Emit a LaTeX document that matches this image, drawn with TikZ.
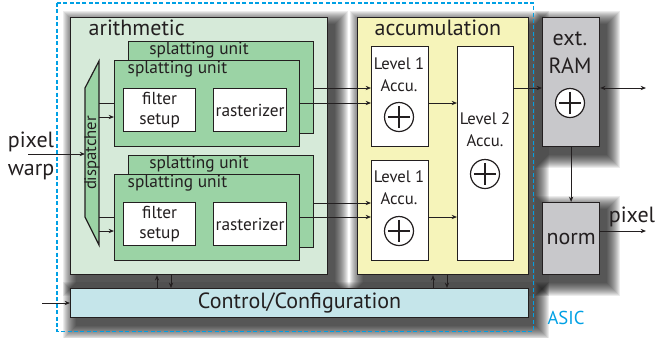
\documentclass[tikz,border=0pt]{standalone}
\usepackage{fontspec}
\setmainfont{PT Sans}
\usepackage{tikz}
\usetikzlibrary{arrows.meta, calc}

\definecolor{ink}{RGB}{35,31,32}
\definecolor{arithbg}{RGB}{214,234,217}
\definecolor{splatbg}{RGB}{155,211,165}
\definecolor{accbg}{RGB}{246,244,186}
\definecolor{rambg}{RGB}{200,200,203}
\definecolor{ctrlbg}{RGB}{197,229,234}
\definecolor{asiccol}{RGB}{0,160,228}

\pgfdeclarelayer{shade}
\pgfsetlayers{shade,main}

% soft drop shadow behind a named box, built from stacked translucent rectangles
\newcommand\dropshade[1]{%
  \begin{pgfonlayer}{shade}
  \foreach \r in {0,...,13}{%
    \fill[black, opacity=0.075] ($(#1.north west)+(\r-7,\r-6)$) rectangle ($(#1.south east)+(20-\r,21-\r)$);}
  \end{pgfonlayer}}

\tikzset{
  blk/.style={draw=ink, line width=0.9pt, inner sep=0pt, anchor=north west, text=ink},
  wire/.style={draw=ink, line width=0.75pt, -{Stealth[length=4pt,width=3.2pt]}},
  biwire/.style={draw=ink, line width=0.75pt, {Stealth[length=4pt,width=3.2pt]}-{Stealth[length=4pt,width=3.2pt]}},
  plain/.style={draw=ink, line width=0.75pt},
  adder/.style={circle, draw=ink, line width=0.9pt, fill=white, minimum size=21.75pt, inner sep=0pt,
    path picture={\draw[ink, line width=0.8pt, shorten >=2.5pt, shorten <=2.5pt]
      (path picture bounding box.north) -- (path picture bounding box.south);
      \draw[ink, line width=0.8pt, shorten >=2.5pt, shorten <=2.5pt]
      (path picture bounding box.west) -- (path picture bounding box.east);}},
  big/.style={font=\fontsize{16.5}{21}\selectfont, text=ink},
  mid/.style={font=\fontsize{13}{15}\selectfont, text=ink},
  sml/.style={font=\fontsize{12.5}{16.5}\selectfont, text=ink},
  asicline/.style={draw=asiccol, line width=1pt, dash pattern={on 3pt off 1.8pt}},
}

\begin{document}
\begin{tikzpicture}[x=0.75pt,y=0.75pt,yscale=-1,xscale=1]
\useasboundingbox (0,0) rectangle (657,337);

%Shape: Rectangle -- arithmetic, accumulation, control, ext. RAM, norm
\node[blk, fill=arithbg, minimum width=192.75pt, minimum height=192.75pt] (arith) at (70,17) {};
\node[blk, fill=accbg, minimum width=128.25pt, minimum height=192.75pt] (accu) at (357,17) {};
\node[blk, fill=ctrlbg, minimum width=343.5pt, minimum height=21.75pt, big] (ctrl) at (70,288) {Control/Configuration};
\node[blk, fill=rambg, minimum width=42.75pt, minimum height=96.75pt] (ram) at (542,17) {};
\node[blk, fill=rambg, minimum width=42.75pt, minimum height=54pt, big] (norm) at (542,202) {norm};
\dropshade{arith}
\dropshade{accu}
\dropshade{ctrl}
\dropshade{ram}
\dropshade{norm}

% Text Node
\node[big, anchor=base west] (arithlbl) at (84,35) {arithmetic};
\node[big, anchor=base west] (acculbl) at (370,35) {accumulation};

%Shape: Rectangle -- splatting units, upper row
\node[blk, fill=splatbg, minimum width=138.75pt, minimum height=69pt] (backA) at (128,41) {};
\node[mid, anchor=base] (backAlbl) at (199,54) {splatting unit};
%Shape: Rectangle -- splatting units, lower row
\node[blk, fill=splatbg, minimum width=138.75pt, minimum height=69pt] (backB) at (128,155) {};
\node[mid, anchor=base] (backBlbl) at (199,168) {splatting unit};

%Shape: Polygon -- dispatcher
\draw[ink, line width=0.9pt, fill=splatbg] (99,61) -- (99,245) -- (85,217) -- (85,88) -- cycle;
\node[sml, rotate=90] (disp) at (92,153) {dispatcher};
\coordinate (dspIn) at (85,154);
\coordinate (dspOut) at (99,153);

%Straight Lines -- dispatcher to the hidden units
\draw[plain] (dspOut |- 0,103) -- (backA.west |- 0,103);
\draw[plain] (dspOut |- 0,217) -- (backB.west |- 0,217);

\node[blk, fill=splatbg, minimum width=138.75pt, minimum height=64.5pt] (frontA) at (114,60) {};
\node[mid, anchor=base west] (frontAlbl) at (123,73) {splatting unit};
\node[blk, fill=white, minimum width=54pt, minimum height=32.25pt, mid, align=center] (filtA) at (123,88) {filter\\setup};
\node[blk, fill=white, minimum width=54.75pt, minimum height=32.25pt, mid] (rastA) at (213,88) {rasterizer};

\node[blk, fill=splatbg, minimum width=138.75pt, minimum height=64.5pt] (frontB) at (114,174) {};
\node[mid, anchor=base west] (frontBlbl) at (123,187) {splatting unit};
\node[blk, fill=white, minimum width=54pt, minimum height=32.25pt, mid, align=center] (filtB) at (123,202) {filter\\setup};
\node[blk, fill=white, minimum width=54.75pt, minimum height=32.25pt, mid] (rastB) at (213,202) {rasterizer};

%Shape: Rectangle -- accumulation stages
\node[blk, fill=white, minimum width=42.75pt, minimum height=75pt] (lvA) at (371,46) {};
\node[blk, fill=white, minimum width=42.75pt, minimum height=75pt] (lvB) at (371,160) {};
\node[blk, fill=white, minimum width=42pt, minimum height=160.5pt] (lv2) at (457,46) {};
\node[sml, align=center] (lvAlbl) at (399,75) {Level 1\\Accu.};
\node[sml, align=center] (lvBlbl) at (399,188) {Level 1\\Accu.};
\node[sml, align=center] (lv2lbl) at (485,130) {Level 2\\Accu.};
\node[big, align=center] (ramlbl) at (570,53) {ext.\\RAM};

%Shape: Circle -- adders
\node[adder] (addA) at (399,117) {};
\node[adder] (addB) at (399,231) {};
\node[adder] (add2) at (485,174) {};
\node[adder] (addR) at (570,103) {};

%Shape: Rectangle -- ASIC border
\node[anchor=north west, inner sep=0pt, minimum width=357pt, minimum height=246pt] (asic) at (57,3) {};
\draw[asicline] (asic.north west) rectangle (asic.south east);
\node[font=\fontsize{14}{16}\selectfont, text=asiccol] (asiclbl) at (566,318) {ASIC};

%Straight Lines -- data path
\draw[wire] (dspOut |- 0,117) -- (frontA.west |- 0,117);
\draw[wire] (dspOut |- 0,231) -- (frontB.west |- 0,231);
\draw[wire] (backA.east |- 0,88) -- (lvA.west |- 0,88);
\draw[wire] (frontA.east |- 0,103) -- (lvA.west |- 0,103);
\draw[wire] (backB.east |- 0,203) -- (lvB.west |- 0,203);
\draw[wire] (frontB.east |- 0,217) -- (lvB.west |- 0,217);
\draw[wire] (lvA.east |- 0,103) -- (lv2.west |- 0,103);
\draw[wire] (lvB.east |- 0,217) -- (lv2.west |- 0,217);
\draw[wire] (lv2.east |- 0,88) -- (ram.west |- 0,88);
\draw[wire] (ram.south) -- (norm.north);

\coordinate (pwIn) at (28,154);
\draw[wire] (pwIn) -- (dspIn);
\node[big, align=center] (pwlbl) at (31,156) {pixel\\warp};

\coordinate (ramOut) at (646,88);
\draw[biwire] (ram.east |- ramOut) -- (ramOut);
\coordinate (pxOut) at (646,231);
\draw[wire] (norm.east |- pxOut) -- (pxOut);
\node[big] (pxlbl) at (632,217) {pixel};

%Straight Lines -- control
\coordinate (ctIn) at (42,303);
\draw[wire] (ctIn) -- (ctIn -| ctrl.west);
\draw[wire] (ctrl.north -| 157,0) -- (arith.south -| 157,0);
\draw[wire] (arith.south -| 171,0) -- (ctrl.north -| 171,0);
\draw[wire] (ctrl.north -| 433,0) -- (accu.south -| 433,0);
\draw[wire] (accu.south -| 447,0) -- (ctrl.north -| 447,0);

\end{tikzpicture}
\end{document}
